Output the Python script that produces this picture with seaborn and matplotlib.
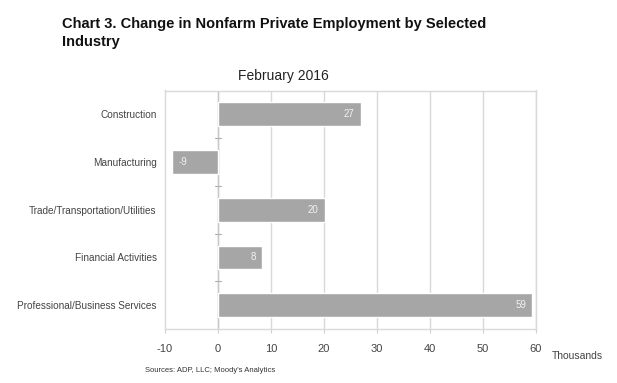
import matplotlib
matplotlib.use("Agg")
import matplotlib.pyplot as plt
import seaborn as sns
import pandas as pd
import numpy as np

categories = ["Construction", "Manufacturing", "Trade/Transportation/Utilities",
              "Financial Activities", "Professional/Business Services"]
values = [27.0, -8.7, 20.2, 8.3, 59.3]
xticks = [-10, 0, 10, 20, 30, 40, 50, 60]

sns.set_theme(style="white")
plt.rcParams['font.family'] = ['Liberation Sans', 'DejaVu Sans']

df = pd.DataFrame({"industry": categories, "change": values})

fig = plt.figure(figsize=(6.17, 3.83), dpi=100)
ax = fig.add_axes([165/617, 1-329/383, (536-165)/617, (329-90.5)/383])

sns.barplot(data=df, x="change", y="industry", orient="h", color="#a6a6a6",
            saturation=1, width=0.5, ax=ax, zorder=3)

ax.set_xlim(-10, 60)
ax.set_ylim(len(categories)-0.5, -0.5)
ax.set_xticks(xticks)
ax.set_xticklabels([str(t) for t in xticks], fontsize=8, color="#444444")
ax.set_xlabel("")
ax.set_ylabel("")
ax.tick_params(axis="y", length=0, labelsize=7.2, labelcolor="#444444", pad=6)
ax.tick_params(axis="x", length=3, width=0.8, color="#d0d0d0", direction="out", pad=8, bottom=True)

for t in xticks[1:]:
    ax.axvline(t, color="#d9d9d9", lw=1, zorder=1)
ax.axvline(0, color="#c8c8c8", lw=1, zorder=2)
# category separator ticks on the zero line
for i in range(len(categories)-1):
    ax.plot([-0.5, 0.5], [i+0.5, i+0.5], color="#b0b0b0", lw=0.8, zorder=2)

for side in ["top", "right", "left", "bottom"]:
    ax.spines[side].set_color("#d9d9d9")
    ax.spines[side].set_linewidth(1)

for i, v in enumerate(values):
    ax.text(v - 1.2 if v > 0 else v + 1.2, i, f"{round(v):d}", ha="right" if v > 0 else "left",
            va="center", fontsize=7, color="#f2f2f2", zorder=4)

fig.text(62/617, 1-33/383, "Chart 3. Change in Nonfarm Private Employment by Selected\nIndustry",
         ha="left", va="center", fontsize=10.5, fontweight="bold", color="#111111",
         linespacing=1.45)
fig.text(283/617, 1-76/383, "February 2016", ha="center", va="center", fontsize=10, color="#222222")
fig.text(577/617, 1-356/383, "Thousands", ha="center", va="center", fontsize=7.5, color="#444444")
fig.text(145/617, 1-370/383, "Sources: ADP, LLC; Moody's Analytics", ha="left", va="center",
         fontsize=5.5, color="#333333")

fig.savefig("out.png", dpi=100)
